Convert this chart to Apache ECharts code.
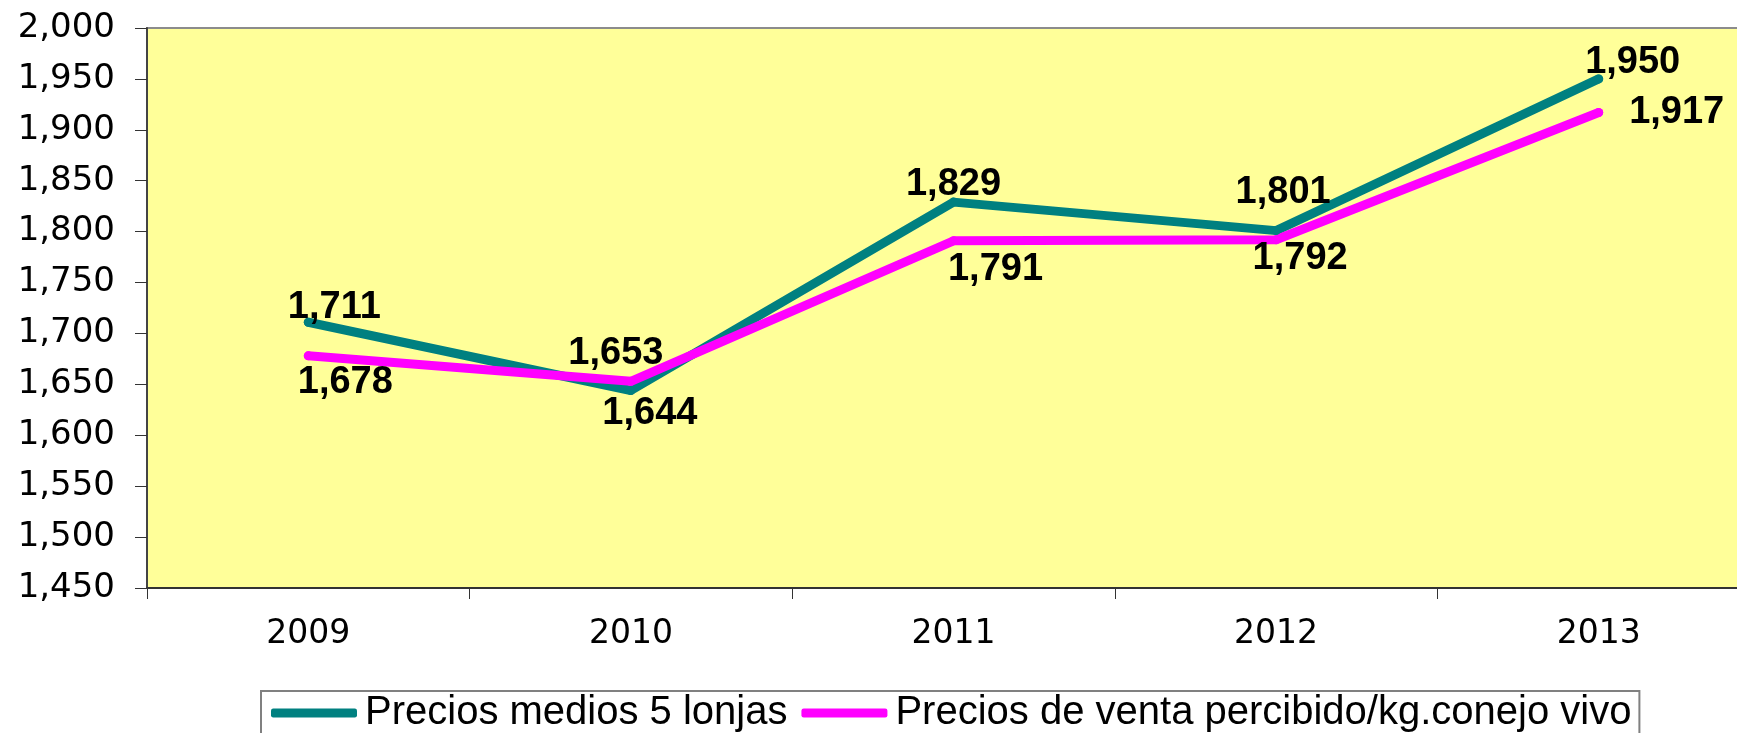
<!DOCTYPE html>
<html>
<head>
<meta charset="utf-8">
<script src="https://cdn.jsdelivr.net/npm/echarts@6/dist/echarts.min.js"></script>
<style>
  html, body { margin: 0; padding: 0; background: #fff; overflow: hidden; }
  #chart { width: 1760px; height: 733px; }
</style>
</head>
<body>
<div id="chart"></div>
<script>
// datos
const years = ["2009", "2010", "2011", "2012", "2013"]
const preciosLonjas = [1711, 1644, 1829, 1801, 1950]
const preciosVenta = [1678, 1653, 1791, 1792, 1917]
const nombres = ["Precios medios 5 lonjas", "Precios de venta percibido/kg.conejo vivo"]

// desplazamiento de las etiquetas
const offsLonjas = [[26, -15], [19, 23], [0, -18], [7, -38], [34, -16]]
const offsVenta = [[37, 27], [-15, -28], [42, 29], [24, 19], [78, 0]]

const fmt = (v) => {
  const s = String(v)
  return s.slice(0, s.length - 3) + "," + s.slice(-3)
}

const mkData = (vals, offs) =>
  vals.map((v, i) => ({ value: v, label: { offset: offs[i] } }))

const mkSeries = (name, vals, offs, color) => ({
  name: name,
  type: "line",
  data: mkData(vals, offs),
  symbol: "circle",
  symbolSize: 9,
  itemStyle: { color: color },
  lineStyle: { color: color, width: 9, cap: "round", join: "round" },
  label: {
    show: true,
    position: "inside",
    align: "center",
    verticalAlign: "middle",
    formatter: (p) => fmt(p.value),
    color: "#000",
    fontFamily: "Liberation Sans",
    fontWeight: "bold",
    fontSize: 38,
  },
  emphasis: { disabled: true },
  animation: false,
})

const chart = echarts.init(document.getElementById("chart"))

const option = {
  animation: false,
  grid: {
    left: 147,
    top: 28,
    right: 0,
    bottom: 145,
    show: true,
    backgroundColor: "#FFFF99",
    borderColor: "#8c8c8c",
    borderWidth: 2,
  },
  legend: {
    left: 261,
    top: 691,
    padding: [2, 8, 8, 10],
    itemGap: 14,
    itemWidth: 86,
    itemHeight: 9,
    icon: "roundRect",
    borderColor: "#808080",
    borderWidth: 2,
    backgroundColor: "#fff",
    textStyle: {
      fontFamily: "Liberation Sans",
      fontSize: 40,
      color: "#000",
      padding: [0, 0, 0, 3],
    },
    data: nombres,
  },
  xAxis: {
    type: "category",
    data: years,
    boundaryGap: true,
    axisLine: { lineStyle: { color: "#333", width: 2 } },
    axisTick: { show: true, length: 11, lineStyle: { color: "#333", width: 1 } },
    axisLabel: {
      margin: 30,
      fontFamily: "DejaVu Sans",
      fontSize: 33,
      color: "#000",
    },
    splitLine: { show: false },
  },
  yAxis: {
    type: "value",
    min: 1450,
    max: 2000,
    interval: 50,
    axisLine: { show: true, lineStyle: { color: "#444", width: 2 } },
    axisTick: { show: true, length: 12, lineStyle: { color: "#333", width: 1 } },
    axisLabel: {
      margin: 32,
      formatter: (v) => fmt(v),
      fontFamily: "DejaVu Sans",
      fontSize: 34,
      color: "#000",
    },
    splitLine: { show: false },
  },
  series: [
    mkSeries(nombres[0], preciosLonjas, offsLonjas, "#008080"),
    mkSeries(nombres[1], preciosVenta, offsVenta, "#FF00FF"),
  ],
}

chart.setOption(option)
</script>
</body>
</html>
